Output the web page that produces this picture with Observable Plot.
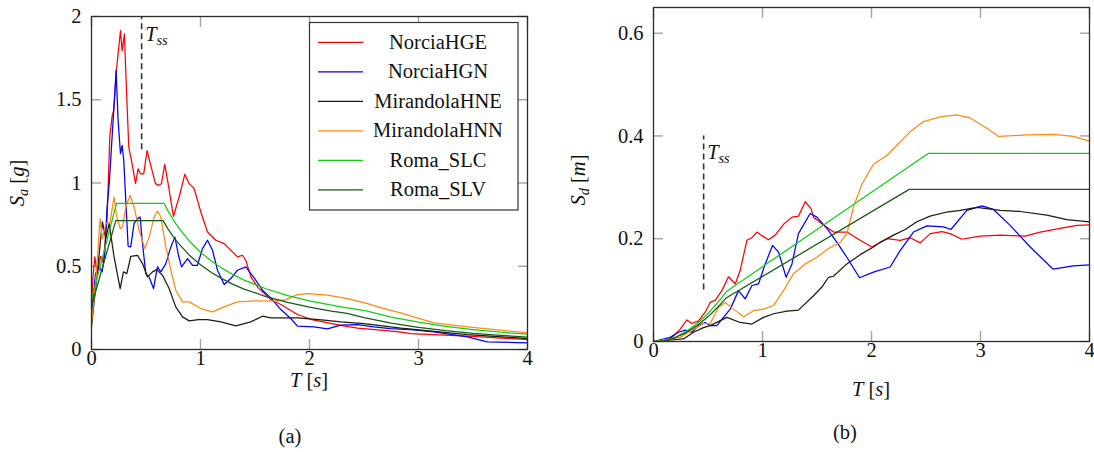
<!DOCTYPE html>
<html><head><meta charset="utf-8">
<script src="https://cdn.jsdelivr.net/npm/d3@7"></script>
<script src="https://cdn.jsdelivr.net/npm/@observablehq/plot@0.6"></script>
<style>
body{margin:0;background:#fff;}
#wrap{display:flex;width:1094px;height:452px;overflow:hidden;}
#wrap > div{width:547px;height:452px;}
svg, svg text{font-family:"Liberation Serif","Tinos","Nimbus Roman","Nimbus Roman No9 L","FreeSerif","Times New Roman","Times","DejaVu Serif","Noto Serif",serif !important;}
</style></head><body><div id="wrap"><div id="pa"></div><div id="pb"></div></div>
<script>
const seriesNames = ["NorciaHGE","NorciaHGN","MirandolaHNE","MirandolaHNN","Roma_SLC","Roma_SLV"];
const seriesColors = ["#ff0000","#0000ff","#1c1c0c","#ff8a14","#14cc14","#155a15"];
const xTicks = [0,1,2,3,4];
const saTicks = [0,0.5,1,1.5,2];
const sdTicks = [0,0.2,0.4,0.6];
const tss = 0.46;
const tssSaRange = [1.2, 2];
const tssSdRange = [0.1, 0.4];

// panel (a): spectral acceleration Sa [g] vs T [s]
const saNorciaHGE = [[0,0.25],[0.012,0.42],[0.03,0.556],[0.052,0.456],[0.083,0.56],[0.11,0.52],[0.144,0.8],[0.168,1.28],[0.189,1.4],[0.204,1.44],[0.229,1.68],[0.266,1.915],[0.281,1.795],[0.302,1.895],[0.32,1.575],[0.342,1.215],[0.367,1.135],[0.404,0.996],[0.428,1.085],[0.449,1.055],[0.479,1.055],[0.51,1.195],[0.54,1.115],[0.587,0.996],[0.617,0.986],[0.642,0.996],[0.672,1.112],[0.703,0.996],[0.752,0.8],[0.804,0.916],[0.856,1.052],[0.896,0.996],[0.942,0.966],[1.003,0.826],[1.064,0.706],[1.14,0.656],[1.217,0.636],[1.294,0.586],[1.34,0.556],[1.385,0.566],[1.416,0.536],[1.462,0.436],[1.53,0.37],[1.645,0.3],[1.737,0.27],[1.89,0.21],[2.02,0.18],[2.287,0.145],[2.44,0.128],[2.654,0.116],[2.84,0.104],[2.93,0.095],[3.45,0.08],[4,0.06]];
const saNorciaHGN = [[0,0.2],[0.037,0.456],[0.067,0.496],[0.098,0.466],[0.122,0.576],[0.143,0.856],[0.165,1.016],[0.189,1.276],[0.208,1.476],[0.226,1.676],[0.244,1.376],[0.266,1.176],[0.281,1.226],[0.296,1.136],[0.318,0.85],[0.336,0.62],[0.36,0.616],[0.39,0.756],[0.422,0.786],[0.446,0.796],[0.468,0.636],[0.498,0.456],[0.528,0.436],[0.569,0.366],[0.605,0.496],[0.636,0.466],[0.682,0.516],[0.728,0.616],[0.765,0.675],[0.8,0.56],[0.826,0.496],[0.881,0.546],[0.927,0.506],[0.972,0.506],[1.018,0.606],[1.064,0.656],[1.11,0.596],[1.156,0.476],[1.217,0.39],[1.278,0.426],[1.339,0.476],[1.416,0.496],[1.492,0.43],[1.569,0.356],[1.645,0.31],[1.737,0.24],[1.828,0.186],[1.89,0.14],[2.042,0.136],[2.165,0.124],[2.287,0.146],[2.44,0.15],[2.59,0.136],[2.74,0.126],[2.93,0.12],[3.14,0.106],[3.45,0.076],[3.63,0.046],[4,0.04]];
const saMirandolaHNE = [[0,0.136],[0.055,0.476],[0.1,0.766],[0.131,0.666],[0.162,0.756],[0.207,0.556],[0.263,0.366],[0.293,0.466],[0.324,0.456],[0.361,0.56],[0.422,0.566],[0.468,0.516],[0.514,0.436],[0.56,0.466],[0.599,0.48],[0.651,0.446],[0.712,0.366],[0.773,0.256],[0.835,0.196],[0.896,0.172],[0.98,0.18],[1.064,0.18],[1.187,0.166],[1.324,0.142],[1.461,0.166],[1.569,0.2],[1.645,0.19],[1.89,0.19],[2.134,0.176],[2.287,0.166],[2.5,0.156],[2.838,0.128],[3.45,0.09],[4,0.066]];
const saMirandolaHNN = [[0,0.16],[0.04,0.416],[0.079,0.786],[0.1,0.666],[0.131,0.756],[0.171,0.766],[0.207,0.916],[0.232,0.796],[0.263,0.726],[0.284,0.736],[0.315,0.856],[0.354,0.926],[0.391,0.856],[0.437,0.716],[0.489,0.606],[0.529,0.676],[0.575,0.796],[0.605,0.832],[0.636,0.796],[0.682,0.616],[0.728,0.476],[0.773,0.356],[0.835,0.286],[0.896,0.286],[1.003,0.246],[1.11,0.226],[1.217,0.256],[1.339,0.286],[1.492,0.292],[1.675,0.29],[1.782,0.3],[1.89,0.33],[1.982,0.336],[2.165,0.326],[2.349,0.306],[2.532,0.276],[2.716,0.24],[2.838,0.22],[2.93,0.2],[3.143,0.16],[3.45,0.136],[4,0.1]];
const saRomaSLC = [[0,0.3],[0.229,0.877],[0.666,0.877],[0.7,0.834],[0.75,0.779],[0.8,0.73],[0.9,0.649],[1.0,0.584],[1.1,0.531],[1.2,0.487],[1.3,0.449],[1.4,0.417],[1.6,0.365],[1.8,0.324],[2.0,0.292],[2.25,0.26],[2.52,0.232],[2.75,0.195],[3.0,0.164],[3.25,0.139],[3.5,0.12],[3.75,0.104],[4,0.092]];
const saRomaSLV = [[0,0.26],[0.223,0.774],[0.657,0.774],[0.7,0.726],[0.75,0.678],[0.8,0.636],[0.9,0.565],[1.0,0.509],[1.1,0.462],[1.2,0.424],[1.3,0.391],[1.4,0.363],[1.6,0.318],[1.8,0.283],[2.0,0.254],[2.2,0.231],[2.346,0.217],[2.5,0.191],[2.75,0.158],[3.0,0.133],[3.25,0.113],[3.5,0.097],[3.75,0.085],[4,0.075]];

// panel (b): spectral displacement Sd [m] vs T [s]
const sdNorciaHGE = [[0,0],[0.153,0.005],[0.245,0.024],[0.306,0.042],[0.352,0.035],[0.413,0.04],[0.474,0.057],[0.52,0.076],[0.566,0.08],[0.627,0.099],[0.688,0.126],[0.75,0.112],[0.795,0.138],[0.857,0.197],[0.903,0.202],[0.948,0.213],[0.994,0.206],[1.055,0.198],[1.117,0.207],[1.193,0.228],[1.27,0.242],[1.33,0.244],[1.392,0.272],[1.444,0.259],[1.468,0.242],[1.545,0.229],[1.651,0.213],[1.774,0.213],[1.896,0.197],[2.003,0.184],[2.141,0.2],[2.263,0.197],[2.355,0.202],[2.447,0.192],[2.539,0.21],[2.646,0.214],[2.722,0.21],[2.829,0.199],[2.997,0.205],[3.181,0.207],[3.41,0.205],[3.548,0.213],[3.731,0.22],[3.884,0.226],[4,0.227]];
const sdNorciaHGN = [[0,0],[0.153,0.008],[0.229,0.018],[0.291,0.022],[0.352,0.018],[0.413,0.031],[0.474,0.037],[0.52,0.031],[0.581,0.031],[0.642,0.047],[0.704,0.063],[0.78,0.099],[0.841,0.083],[0.903,0.109],[0.963,0.112],[1.025,0.151],[1.092,0.187],[1.147,0.174],[1.217,0.125],[1.27,0.151],[1.33,0.21],[1.437,0.249],[1.499,0.242],[1.591,0.22],[1.683,0.193],[1.774,0.164],[1.89,0.124],[2.018,0.135],[2.171,0.145],[2.263,0.177],[2.385,0.213],[2.508,0.225],[2.661,0.223],[2.728,0.218],[2.875,0.255],[3.013,0.264],[3.119,0.257],[3.272,0.226],[3.456,0.184],[3.664,0.141],[3.853,0.147],[4,0.149]];
const sdMirandolaHNE = [[0,0],[0.275,0.005],[0.367,0.018],[0.459,0.027],[0.52,0.031],[0.673,0.047],[0.795,0.037],[0.903,0.034],[1.009,0.047],[1.101,0.054],[1.224,0.059],[1.33,0.061],[1.468,0.089],[1.545,0.106],[1.606,0.125],[1.651,0.127],[1.774,0.151],[1.896,0.169],[2.018,0.184],[2.08,0.193],[2.202,0.207],[2.309,0.218],[2.416,0.233],[2.538,0.244],[2.691,0.252],[2.814,0.255],[2.967,0.261],[3.181,0.255],[3.364,0.253],[3.609,0.246],[3.792,0.237],[4,0.233]];
const sdMirandolaHNN = [[0,0],[0.245,0.008],[0.367,0.024],[0.459,0.035],[0.52,0.035],[0.596,0.066],[0.658,0.076],[0.734,0.063],[0.826,0.048],[0.917,0.06],[1.009,0.063],[1.101,0.07],[1.193,0.099],[1.284,0.132],[1.392,0.151],[1.499,0.164],[1.606,0.181],[1.713,0.193],[1.774,0.21],[1.835,0.262],[1.912,0.306],[2.018,0.345],[2.141,0.362],[2.233,0.382],[2.355,0.408],[2.477,0.428],[2.63,0.437],[2.783,0.441],[2.905,0.435],[3.058,0.415],[3.165,0.399],[3.426,0.402],[3.67,0.403],[3.853,0.399],[4,0.39]];
const sdRomaSLC = [[0,0],[0.1,0.0014],[0.2,0.0083],[0.3,0.0196],[0.4,0.0349],[0.5,0.0545],[0.6,0.0785],[0.672,0.098],[2.52,0.366],[4,0.366]];
const sdRomaSLV = [[0,0],[0.1,0.0012],[0.2,0.0077],[0.3,0.0174],[0.4,0.031],[0.5,0.048],[0.6,0.069],[0.662,0.084],[2.346,0.296],[4,0.296]];

const saSeries = [saNorciaHGE, saNorciaHGN, saMirandolaHNE, saMirandolaHNN, saRomaSLC, saRomaSLV];
const sdSeries = [sdNorciaHGE, sdNorciaHGN, sdMirandolaHNE, sdMirandolaHNN, sdRomaSLC, sdRomaSLV];

function toRows(series) {
  return series.flatMap((pts, i) => pts.map(([T, v]) => ({T, v, s: seriesNames[i]})));
}

const FONT = '"Liberation Serif","Tinos","Nimbus Roman","FreeSerif","Times New Roman","DejaVu Serif",serif';
const FS = 20.5;

function panel({rows, yDomain, yTicks, margins, tssRange}) {
  const tickStyle = {stroke: "#a3a3a3", strokeWidth: 1.4, tickSize: -10, tickFormat: () => "", label: null};
  return Plot.plot({
    width: 547, height: 452,
    ...margins,
    x: {domain: [0, 4], label: null},
    y: {domain: yDomain, label: null},
    color: {domain: seriesNames, range: seriesColors},
    style: {fontFamily: FONT, fontSize: FS + "px", color: "#111", background: "transparent", overflow: "visible"},
    marks: [
      Plot.ruleX([tss], {y1: tssRange[0], y2: tssRange[1], stroke: "#333", strokeWidth: 1.6, strokeDasharray: "6,4"}),
      Plot.axisX(xTicks, {anchor: "bottom", ...tickStyle}),
      Plot.axisX(xTicks, {anchor: "top", ...tickStyle}),
      Plot.axisY(yTicks, {anchor: "left", ...tickStyle}),
      Plot.axisY(yTicks, {anchor: "right", ...tickStyle}),
      Plot.line(rows, {x: "T", y: "v", z: "s", stroke: "s", strokeWidth: 1.25}),
      Plot.axisX(xTicks, {anchor: "bottom", tickSize: 0, tickPadding: 1, tickFormat: d => String(d), label: null, fontSize: FS}),
      Plot.axisY(yTicks, {anchor: "left", tickSize: 0, tickPadding: 10, tickFormat: d => String(d), label: null, fontSize: FS}),
      Plot.frame({stroke: "#2b2b2b", strokeWidth: 1.3})
    ]
  });
}

function addText(svg, x, y, parts, opts = {}) {
  const t = svg.append("text")
    .attr("x", x).attr("y", y)
    .attr("text-anchor", opts.anchor || "middle")
    .attr("font-size", FS)
    .attr("fill", "#111");
  if (opts.rotate) t.attr("transform", `rotate(${opts.rotate},${x},${y})`);
  for (const p of parts) {
    const s = t.append("tspan").text(p.t);
    if (p.i) s.attr("font-style", "italic");
    if (p.sub) s.attr("font-size", FS * 0.7).attr("dy", p.sub);
    if (p.dy) s.attr("dy", p.dy);
  }
  return t;
}

// ---- panel (a)
const plotA = panel({
  rows: toRows(saSeries), yDomain: [0, 2], yTicks: saTicks,
  margins: {marginLeft: 91, marginRight: 20, marginTop: 16, marginBottom: 103},
  tssRange: tssSaRange
});
document.getElementById("pa").append(plotA);
{
  const svg = d3.select(plotA);
  const sx = plotA.scale("x"), sy = plotA.scale("y");
  addText(svg, 24, 183, [{t: "S", i: 1}, {t: "a", i: 1, sub: 4}, {t: " [", dy: -4}, {t: "g", i: 1}, {t: "]"}], {rotate: -90});
  addText(svg, 309, 387, [{t: "T", i: 1}, {t: " ["}, {t: "s", i: 1}, {t: "]"}]);
  addText(svg, 290, 443, [{t: "(a)"}]);
  addText(svg, sx.apply(tss) + 4, sy.apply(tssSaRange[1]) + 24.5, [{t: "T", i: 1}, {t: "ss", i: 1, sub: 4}], {anchor: "start"});
  // legend
  const lg = svg.append("g");
  lg.append("rect").attr("x", 309.5).attr("y", 22.5).attr("width", 208.5).attr("height", 187.5)
    .attr("fill", "#fff").attr("stroke", "#333").attr("stroke-width", 1.2);
  seriesNames.forEach((name, i) => {
    const y = 42.3 + i * 29.5;
    lg.append("line").attr("x1", 318).attr("x2", 363).attr("y1", y).attr("y2", y)
      .attr("stroke", seriesColors[i]).attr("stroke-width", 1.25);
    lg.append("text").attr("x", 438).attr("y", y + 6.5).attr("text-anchor", "middle")
      .attr("font-size", FS).attr("fill", "#111").text(name);
  });
}

// ---- panel (b)
const plotB = panel({
  rows: toRows(sdSeries), yDomain: [0, 0.65], yTicks: sdTicks,
  margins: {marginLeft: 106, marginRight: 5, marginTop: 7, marginBottom: 111},
  tssRange: tssSdRange
});
document.getElementById("pb").append(plotB);
{
  const svg = d3.select(plotB);
  const sx = plotB.scale("x"), sy = plotB.scale("y");
  addText(svg, 38, 180, [{t: "S", i: 1}, {t: "d", i: 1, sub: 4}, {t: " [", dy: -4}, {t: "m", i: 1}, {t: "]"}], {rotate: -90});
  addText(svg, 324, 396, [{t: "T", i: 1}, {t: " ["}, {t: "s", i: 1}, {t: "]"}]);
  addText(svg, 298, 439, [{t: "(b)"}]);
  addText(svg, sx.apply(tss) + 4, sy.apply(tssSdRange[1]) + 24, [{t: "T", i: 1}, {t: "ss", i: 1, sub: 4}], {anchor: "start"});
}
</script></body></html>
